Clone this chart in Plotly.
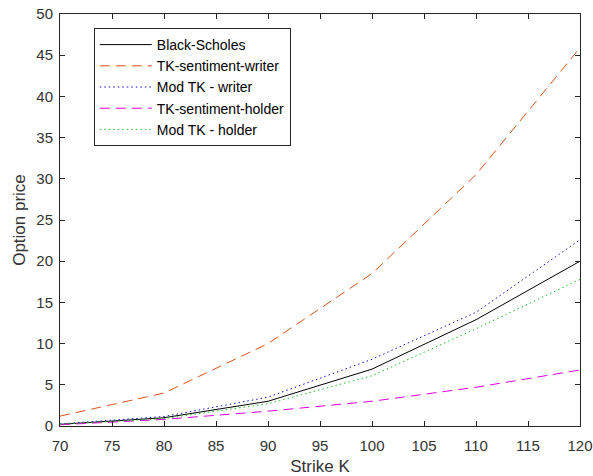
import plotly.graph_objects as go

strike = [70, 80, 90, 100, 110, 120]
black_scholes = [0.2, 1.0, 3.0, 6.9, 12.9, 20.0]
tk_sent_writer = [1.2, 4.0, 10.0, 18.5, 30.5, 45.9]
mod_tk_writer = [0.25, 1.15, 3.5, 8.1, 13.8, 22.6]
tk_sent_holder = [0.15, 0.8, 1.8, 3.0, 4.7, 6.8]
mod_tk_holder = [0.2, 0.9, 2.7, 6.1, 11.8, 17.8]

series = [
    ("Black-Scholes", black_scholes, "#000000", "solid"),
    ("TK-sentiment-writer", tk_sent_writer, "#D95319", "10px,6px"),
    ("Mod TK - writer", mod_tk_writer, "#1010C0", "1.5px,3px"),
    ("TK-sentiment-holder", tk_sent_holder, "#E000E0", "10px,6px"),
    ("Mod TK - holder", mod_tk_holder, "#20C020", "1.5px,3px"),
]

fig = go.Figure()
for name, y, color, dash in series:
    fig.add_trace(go.Scatter(x=strike, y=y, name=name, mode="lines",
                             line=dict(color=color, width=1, dash=dash)))

axis_common = dict(
    showgrid=False, zeroline=False, showline=True, linecolor="#262626", linewidth=1,
    mirror="allticks", ticks="inside", ticklen=5, tickcolor="#262626",
    tickfont=dict(family="Liberation Sans, Arial", size=15, color="#333333"),
    automargin=False,
)

fig.update_layout(
    width=593, height=476,
    margin=dict(l=60, r=13, t=14, b=50),
    paper_bgcolor="white", plot_bgcolor="white",
    font=dict(family="Liberation Sans, Arial", color="#262626"),
    xaxis=dict(range=[70, 120], dtick=5, tick0=70, ticklabelstandoff=6,
               title=dict(text="Strike K", font=dict(size=17, color="#333333"), standoff=8),
               **axis_common),
    yaxis=dict(range=[0, 50], dtick=5, tick0=0, ticklabelstandoff=3,
               title=dict(text="Option price", font=dict(size=17, color="#333333"), standoff=6),
               **axis_common),
    legend=dict(x=0.065, y=0.966, xanchor="left", yanchor="top",
                bgcolor="white", bordercolor="#262626", borderwidth=1,
                font=dict(size=14, color="#000000"), itemwidth=52,
                tracegroupgap=0),
    showlegend=True,
)

fig.write_html("out.html")
